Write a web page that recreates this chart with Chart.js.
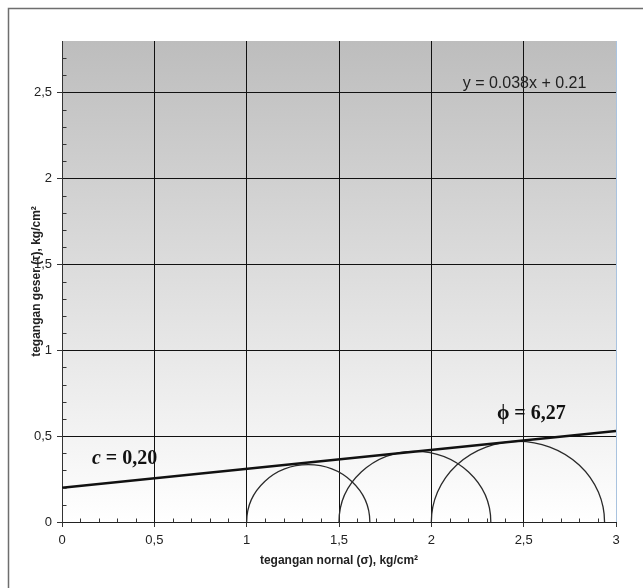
<!DOCTYPE html>
<html>
<head>
<meta charset="utf-8">
<script src="https://cdn.jsdelivr.net/npm/chart.js@4"></script>
<style>
    html, body { margin: 0; padding: 0; background: #fff; }
    #wrap { width: 643px; height: 588px; }
</style>
</head>
<body>
<div id="wrap"><canvas id="chart" width="643" height="588"></canvas></div>
<script>
// Mohr circles (kg/cm2): minor and major principal stress
const sigma3 = [1.0, 1.5, 2.0];
const sigma1 = [1.667, 2.322, 2.938];

// Failure envelope, c = 0,20 and phi = 6,27
const envelopeX = [0, 3];
const envelopeY = [0.20, 0.53];

// Axis ticks
const xTicks = [0, 0.5, 1, 1.5, 2, 2.5, 3];
const yTicks = [0, 0.5, 1, 1.5, 2, 2.5];

const fmt = v => String(v).replace('.', ',');

// Background gradient + outer frame
const backgroundPlugin = {
    id: 'background',
    beforeDraw(chart) {
        const { ctx, chartArea: a } = chart;
        ctx.save();
        const g = ctx.createLinearGradient(0, a.top, 0, a.bottom);
        g.addColorStop(0, '#bdbdbd');
        g.addColorStop(1, '#ffffff');
        ctx.fillStyle = g;
        ctx.fillRect(a.left, a.top, a.right - a.left, a.bottom - a.top);

        ctx.strokeStyle = '#6e6e6e';
        ctx.lineWidth = 1.5;
        ctx.strokeRect(8.5, 8.5, 700, 700);
        ctx.restore();
    }
};

// Semicircles drawn through the scales
const mohrPlugin = {
    id: 'mohr',
    beforeDatasetsDraw(chart) {
        const { ctx, scales: { x, y } } = chart;
        ctx.save();
        ctx.strokeStyle = '#2a2a2a';
        ctx.lineWidth = 1.3;
        sigma3.forEach((s3, i) => {
            const s1 = sigma1[i];
            const cx = x.getPixelForValue((s1 + s3) / 2);
            const rx = x.getPixelForValue(s1) - cx;
            const cy = y.getPixelForValue(0);
            const ry = cy - y.getPixelForValue((s1 - s3) / 2);
            ctx.beginPath();
            ctx.ellipse(cx, cy, rx, ry, 0, Math.PI, 2 * Math.PI);
            ctx.stroke();
        });
        ctx.restore();
    }
};

// Minor ticks (inside) and text annotations
const extrasPlugin = {
    id: 'extras',
    afterDraw(chart) {
        const { ctx, scales: { x, y } } = chart;
        ctx.save();
        ctx.strokeStyle = '#333';
        ctx.lineWidth = 1;
        const y0 = Math.round(y.getPixelForValue(0)) + 0.5;
        for (let i = 1; i < 30; i++) {
            if (i % 5 === 0) continue;
            const px = Math.round(x.getPixelForValue(i / 10)) + 0.5;
            ctx.beginPath(); ctx.moveTo(px, y0); ctx.lineTo(px, y0 - 4); ctx.stroke();
        }
        const x0 = Math.round(x.getPixelForValue(0)) + 0.5;
        for (let i = 1; i < 28; i++) {
            if (i % 5 === 0) continue;
            const py = Math.round(y.getPixelForValue(i / 10)) + 0.5;
            ctx.beginPath(); ctx.moveTo(x0, py); ctx.lineTo(x0 + 4, py); ctx.stroke();
        }

        ctx.textBaseline = 'middle';
        ctx.textAlign = 'left';

        // equation
        ctx.fillStyle = '#222';
        ctx.font = '16px "Liberation Sans", Arial, sans-serif';
        ctx.fillText('y = 0.038x + 0.21', x.getPixelForValue(2.17), y.getPixelForValue(2.55));

        // cohesion
        ctx.fillStyle = '#111';
        let px = x.getPixelForValue(0.162);
        let py = y.getPixelForValue(0.365);
        ctx.font = 'italic bold 20px "Liberation Serif", "Times New Roman", serif';
        ctx.fillText('c', px, py);
        px += ctx.measureText('c').width;
        ctx.font = 'bold 20px "Liberation Serif", "Times New Roman", serif';
        ctx.fillText(' = 0,20', px, py);

        // friction angle
        ctx.fillText('\u03D5 = 6,27', x.getPixelForValue(2.355), y.getPixelForValue(0.63));
        ctx.restore();
    }
};

const ctx = document.getElementById('chart').getContext('2d');
new Chart(ctx, {
    type: 'scatter',
    data: {
        datasets: [{
            label: 'envelope',
            data: envelopeX.map((v, i) => ({ x: v, y: envelopeY[i] })),
            showLine: true,
            borderColor: '#111',
            borderWidth: 2.5,
            pointRadius: 0
        }]
    },
    options: {
        responsive: false,
        animation: false,
        layout: { padding: { top: 41, right: 27, left: 0, bottom: 0 } },
        plugins: { legend: { display: false }, tooltip: { enabled: false } },
        scales: {
            x: {
                type: 'linear',
                min: 0,
                max: 3,
                afterFit: s => { s.height = 66; },
                afterBuildTicks: s => { s.ticks = xTicks.map(v => ({ value: v })); },
                grid: {
                    color: c => c.tick && c.tick.value === 3 ? '#a9c3df' : '#111',
                    lineWidth: 1,
                    tickLength: 5,
                    tickColor: '#333'
                },
                border: { color: '#222', width: 1 },
                ticks: {
                    padding: 6,
                    color: '#222',
                    font: { family: '"Liberation Sans", Arial, sans-serif', size: 13 },
                    callback: v => fmt(v),
                    maxRotation: 0
                },
                title: {
                    display: true,
                    text: 'tegangan nornal (\u03C3), kg/cm\u00B2',
                    color: '#222',
                    font: { family: '"Liberation Sans", Arial, sans-serif', size: 12, weight: 'bold' },
                    padding: { top: 0, bottom: 20 }
                }
            },
            y: {
                type: 'linear',
                min: 0,
                max: 2.8,
                afterFit: s => { s.width = 62; },
                afterBuildTicks: s => { s.ticks = yTicks.map(v => ({ value: v })); },
                grid: {
                    color: '#111',
                    lineWidth: 1,
                    tickLength: 5,
                    tickColor: '#333'
                },
                border: { color: '#333', width: 1 },
                ticks: {
                    padding: 5,
                    color: '#222',
                    font: { family: '"Liberation Sans", Arial, sans-serif', size: 13 },
                    callback: v => fmt(v)
                },
                title: {
                    display: true,
                    text: 'tegangan geser (\u03C4), kg/cm\u00B2',
                    color: '#222',
                    font: { family: '"Liberation Sans", Arial, sans-serif', size: 12, weight: 'bold' },
                    padding: { top: 29, bottom: 0 }
                }
            }
        }
    },
    plugins: [backgroundPlugin, mohrPlugin, extrasPlugin]
});
</script>
</body>
</html>
